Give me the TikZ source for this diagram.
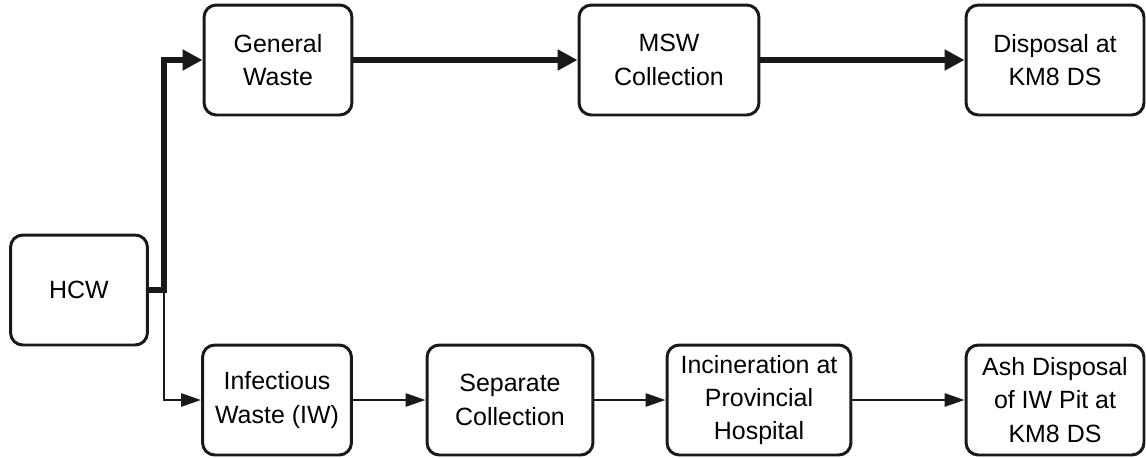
\documentclass[tikz,border=0pt]{standalone}
\usepackage{fontspec}
\setmainfont{Liberation Sans}
\usepackage{tikz}
\usetikzlibrary{arrows.meta}
\tikzset{
  boite/.style={rectangle, rounded corners=7pt, draw=black!90, line width=1.7pt,
    fill=white, font=\fontsize{14.2}{19}\selectfont, align=center,
    minimum height=2.2cm, inner sep=0pt},
  flechegrasse/.style={-{Triangle[length=0.4cm, width=0.4cm]}, line width=3.2pt, draw=black!90},
  flechefine/.style={-{Triangle[length=0.4cm, width=0.26cm]}, line width=1.6pt, draw=black!90},
}
\begin{document}
\begin{tikzpicture}[x=0.02cm, y=-0.02cm]
    \useasboundingbox (0,0) rectangle (1146,457);
    % source
    \node[boite, minimum width=2.74cm] (hcw) at (79,290) {HCW};
    % branche haute
    \node[boite, minimum width=2.96cm] (gen) at (278,60) {General\\ Waste};
    \node[boite, minimum width=3.6cm] (msw) at (669,60) {MSW\\ Collection};
    \node[boite, minimum width=3.56cm] (disp) at (1055,60) {Disposal at\\ KM8 DS};
    % branche basse
    \node[boite, minimum width=2.98cm] (iw) at (277,400) {Infectious\\ Waste (IW)};
    \node[boite, minimum width=3.32cm] (sep) at (510,400) {Separate\\ Collection};
    \node[boite, minimum width=3.68cm] (inc) at (759,400) {Incineration at\\ Provincial\\ Hospital};
    \node[boite, minimum width=3.56cm] (ash) at (1055,400) {Ash Disposal\\ of IW Pit at\\ KM8 DS};
    \coordinate (jn) at (164,290);

    \draw[flechefine] (jn) |- (iw);
    \draw[flechegrasse] (hcw.east) -- (jn) |- (gen);
    \draw[flechegrasse] (gen) -- (msw);
    \draw[flechegrasse] (msw) -- (disp);
    \draw[flechefine] (iw) -- (sep);
    \draw[flechefine] (sep) -- (inc);
    \draw[flechefine] (inc) -- (ash);
\end{tikzpicture}
\end{document}
